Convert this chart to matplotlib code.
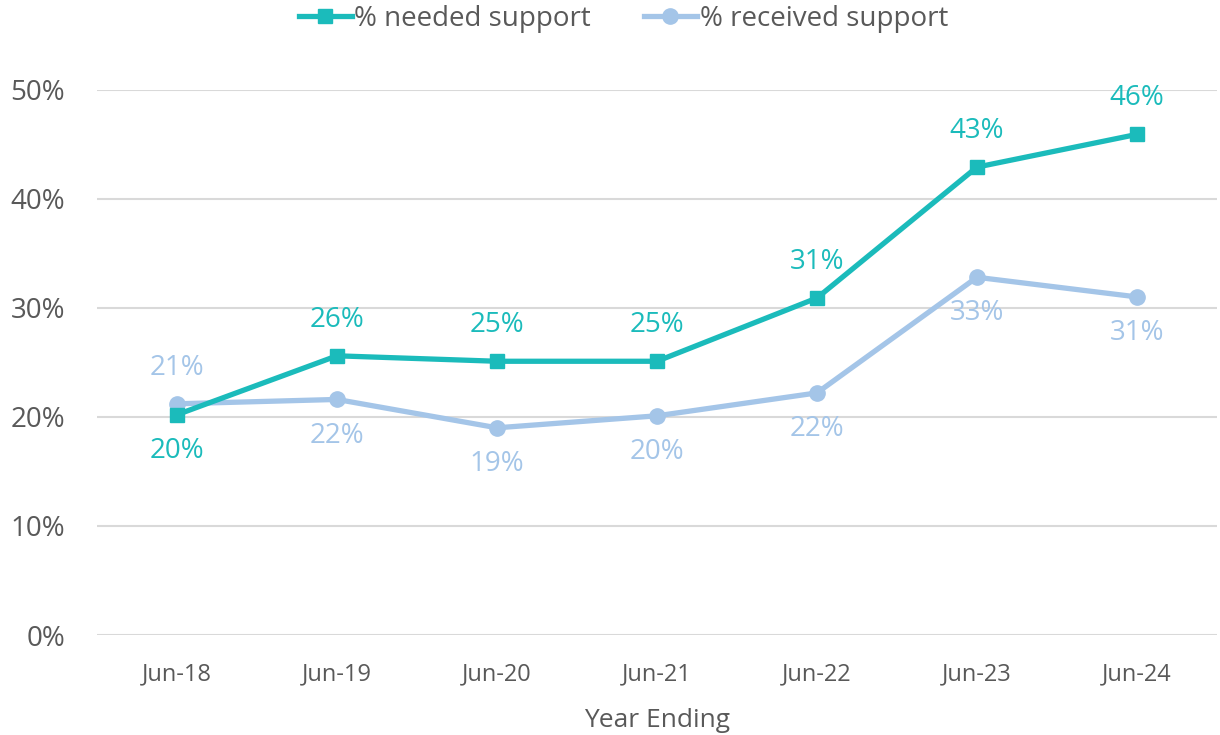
import matplotlib.pyplot as plt
from matplotlib.ticker import PercentFormatter

plt.rcParams['font.family'] = ['Open Sans', 'DejaVu Sans']

years = ["Jun-18", "Jun-19", "Jun-20", "Jun-21", "Jun-22", "Jun-23", "Jun-24"]
needed = [20.2, 25.6, 25.1, 25.1, 30.9, 42.9, 45.9]
received = [21.2, 21.6, 19.0, 20.1, 22.2, 32.8, 31.0]
needed_labels = ["20%", "26%", "25%", "25%", "31%", "43%", "46%"]
received_labels = ["21%", "22%", "19%", "20%", "22%", "33%", "31%"]
# label above (+1) or below (-1) the point
needed_pos = [-1, 1, 1, 1, 1, 1, 1]
received_pos = [1, -1, -1, -1, -1, -1, -1]

teal = "#1BBBBB"
blue = "#A4C5E8"
grey = "#595959"

fig = plt.figure(figsize=(12.2, 7.35), dpi=100)
ax = fig.add_axes([0.0795, 0.136, 0.918, 0.742])

x = list(range(len(years)))
ax.plot(x, needed, color=teal, lw=3.8, marker="s", ms=10, label="% needed support", zorder=3)
ax.plot(x, received, color=blue, lw=3.8, marker="o", ms=11, label="% received support", zorder=2)

for xi, v, t, p in zip(x, needed, needed_labels, needed_pos):
    ax.annotate(t, (xi, v), xytext=(0, 26 * p), textcoords="offset points",
                ha="center", va="center", color=teal, fontsize=20)
for xi, v, t, p in zip(x, received, received_labels, received_pos):
    ax.annotate(t, (xi, v), xytext=(0, 26 * p), textcoords="offset points",
                ha="center", va="center", color=blue, fontsize=20)

ax.set_xlim(-0.5, len(years) - 0.5)
ax.set_ylim(0, 50)
ax.set_yticks(range(0, 51, 10))
ax.yaxis.set_major_formatter(PercentFormatter(decimals=0))
ax.set_xticks(x)
ax.set_xticklabels(years)
ax.tick_params(axis="y", length=0, labelsize=20, labelcolor=grey, pad=23)
ax.tick_params(axis="x", length=0, labelsize=17, labelcolor=grey, pad=20)
ax.grid(axis="y", color="#D9D9D9", lw=1.5)
ax.set_axisbelow(True)
for s in ax.spines.values():
    s.set_visible(False)
ax.set_xlabel("Year Ending", fontsize=19, color=grey, labelpad=15)

ax.legend(loc="center", bbox_to_anchor=(0.47, 1.13), ncol=2, frameon=False,
          fontsize=20, labelcolor=grey, handlelength=1.9, handletextpad=0.1, columnspacing=1.9)

fig.savefig("out.png")
